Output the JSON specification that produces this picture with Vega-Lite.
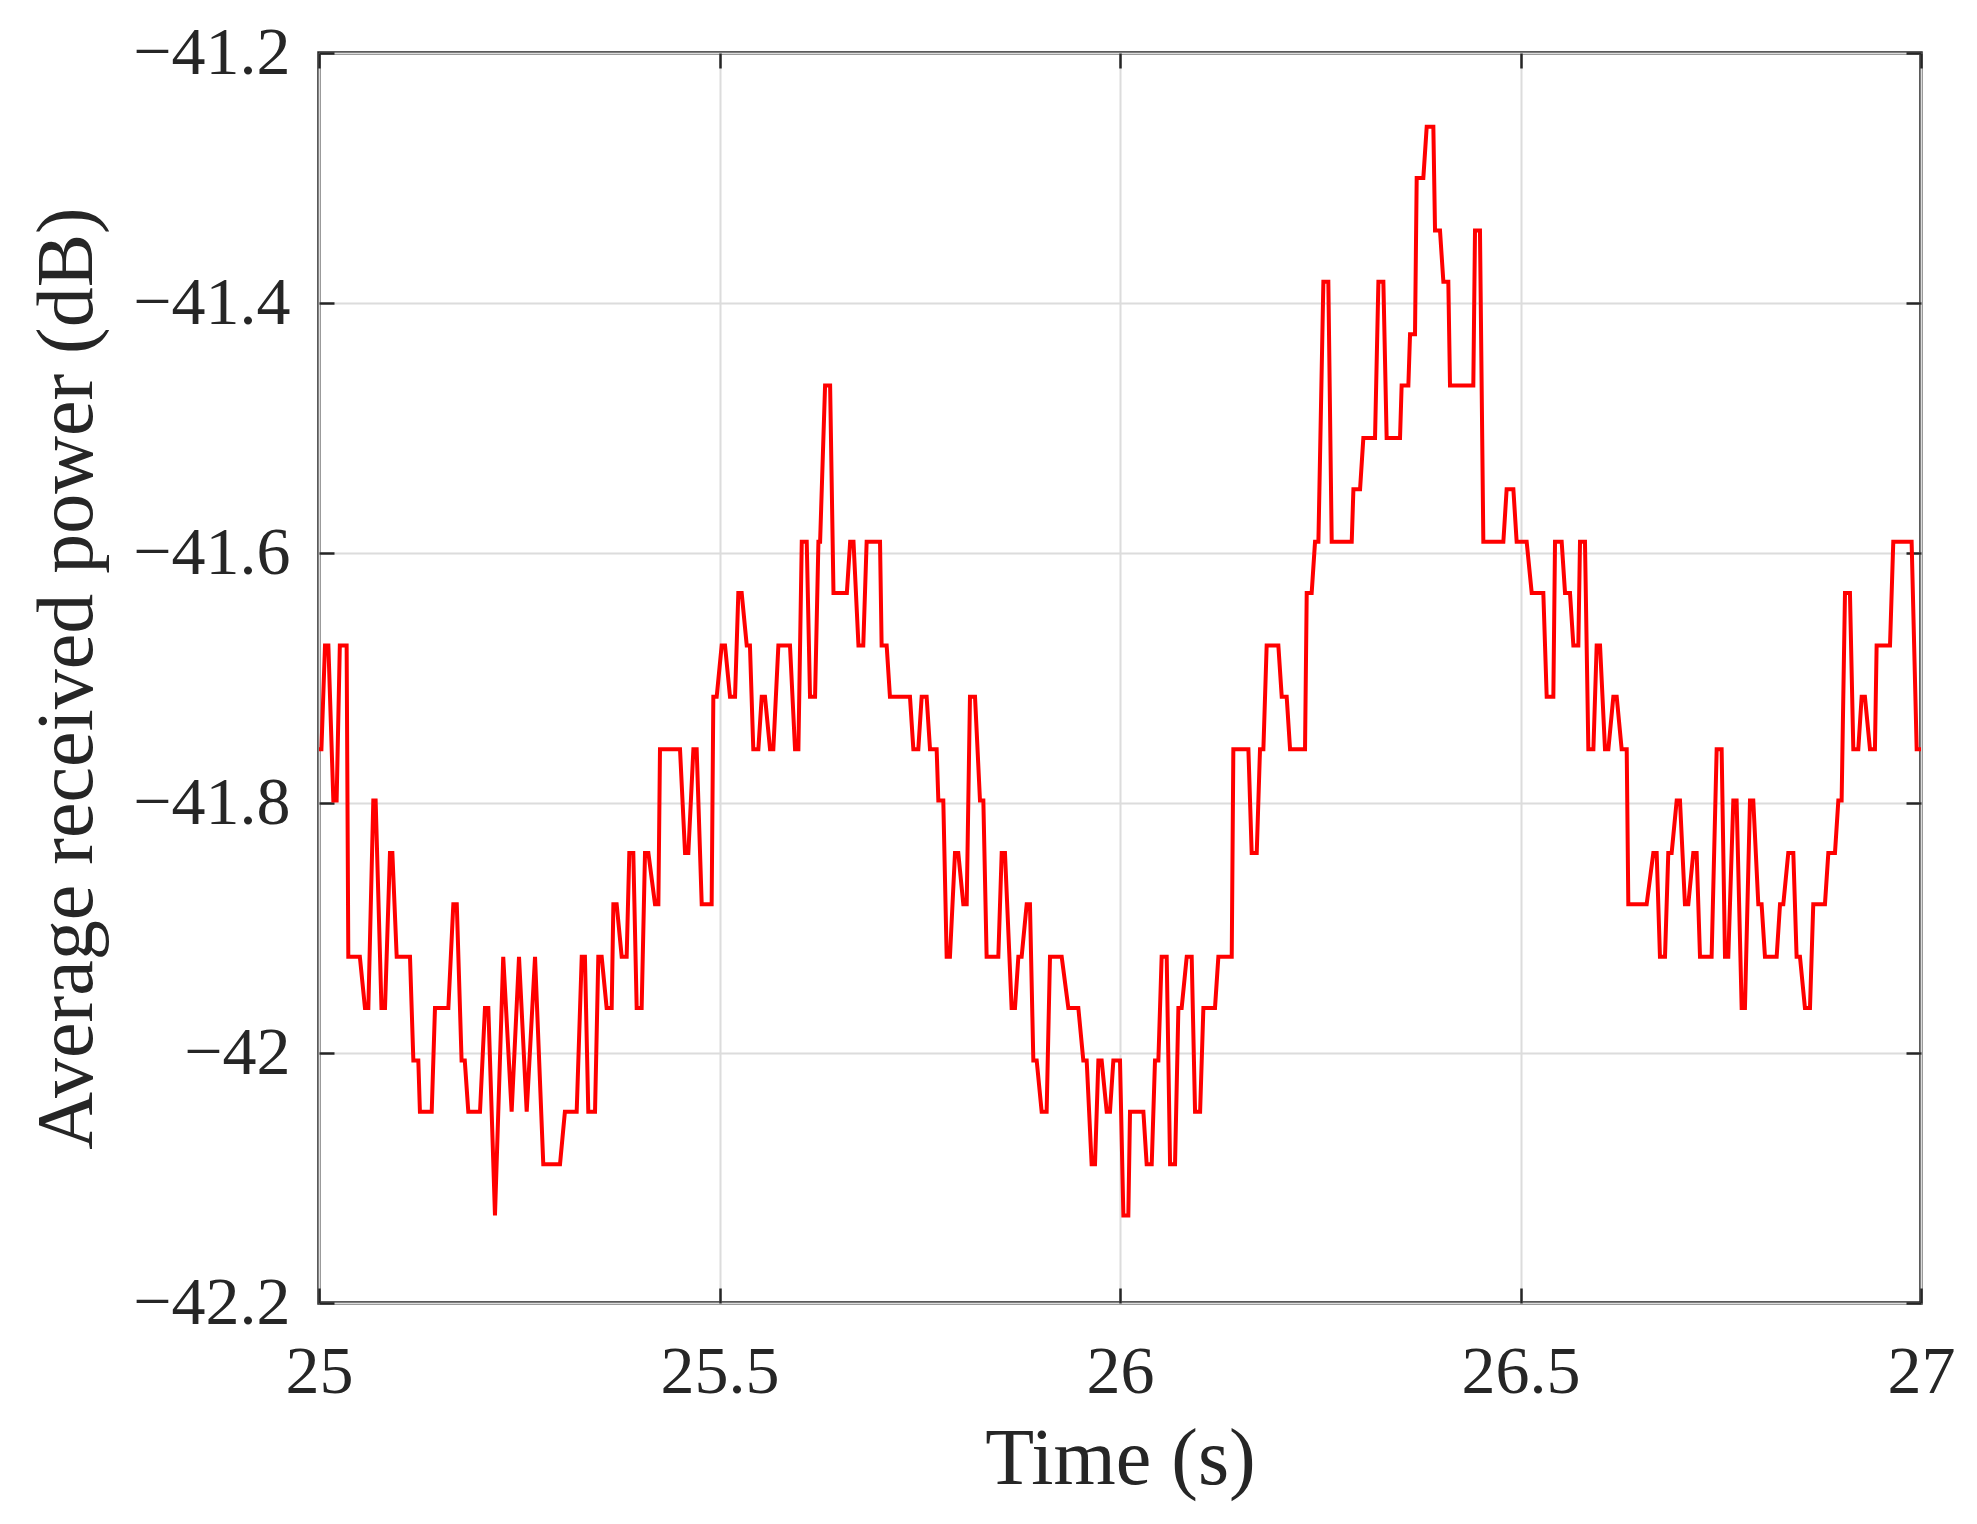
{
  "$schema": "https://vega.github.io/schema/vega-lite/v6.json",
  "width": 1602,
  "height": 1250,
  "autosize": {"type": "none"},
  "padding": {"left": 319, "top": 53, "right": 56, "bottom": 221},
  "background": "white",
  "config": {
    "view": {"stroke": "#262626", "strokeWidth": 3.5, "strokeOpacity": 1},
    "font": "Liberation Serif",
    "axis": {
      "labelFont": "Liberation Serif",
      "titleFont": "Liberation Serif",
      "labelColor": "#262626",
      "titleColor": "#262626",
      "labelFontSize": 68,
      "titleFontSize": 80,
      "titleFontWeight": "normal",
      "tickColor": "#262626",
      "tickWidth": 2.5,
      "tickSize": -15,
      "domain": false,
      "gridColor": "#dcdcdc",
      "gridWidth": 2,
      "gridOpacity": 1
    }
  },
  "data": {
    "values": [
      {"time": 25.0, "power": -41.757}, {"time": 25.003, "power": -41.757},
      {"time": 25.0075, "power": -41.674}, {"time": 25.0117, "power": -41.674},
      {"time": 25.0179, "power": -41.798}, {"time": 25.022, "power": -41.798},
      {"time": 25.026, "power": -41.674}, {"time": 25.0345, "power": -41.674},
      {"time": 25.0366, "power": -41.923}, {"time": 25.051, "power": -41.923},
      {"time": 25.0574, "power": -41.964}, {"time": 25.0616, "power": -41.964},
      {"time": 25.0678, "power": -41.798}, {"time": 25.0707, "power": -41.798},
      {"time": 25.078, "power": -41.964}, {"time": 25.0824, "power": -41.964},
      {"time": 25.0886, "power": -41.84}, {"time": 25.0916, "power": -41.84},
      {"time": 25.097, "power": -41.923}, {"time": 25.1136, "power": -41.923},
      {"time": 25.1178, "power": -42.006}, {"time": 25.124, "power": -42.006},
      {"time": 25.126, "power": -42.047}, {"time": 25.1407, "power": -42.047},
      {"time": 25.1448, "power": -41.964}, {"time": 25.1615, "power": -41.964},
      {"time": 25.1677, "power": -41.881}, {"time": 25.172, "power": -41.881},
      {"time": 25.178, "power": -42.006}, {"time": 25.182, "power": -42.006},
      {"time": 25.1864, "power": -42.047}, {"time": 25.201, "power": -42.047},
      {"time": 25.2072, "power": -41.964}, {"time": 25.2114, "power": -41.964},
      {"time": 25.2197, "power": -42.13},
      {"time": 25.23, "power": -41.923},
      {"time": 25.2405, "power": -42.047},
      {"time": 25.2497, "power": -41.923},
      {"time": 25.2593, "power": -42.047},
      {"time": 25.2697, "power": -41.923},
      {"time": 25.28, "power": -42.089}, {"time": 25.3009, "power": -42.089},
      {"time": 25.307, "power": -42.047}, {"time": 25.3217, "power": -42.047},
      {"time": 25.328, "power": -41.923}, {"time": 25.332, "power": -41.923},
      {"time": 25.3362, "power": -42.047}, {"time": 25.3446, "power": -42.047},
      {"time": 25.3487, "power": -41.923}, {"time": 25.3529, "power": -41.923},
      {"time": 25.3591, "power": -41.964}, {"time": 25.3654, "power": -41.964},
      {"time": 25.3675, "power": -41.881}, {"time": 25.3716, "power": -41.881},
      {"time": 25.3779, "power": -41.923}, {"time": 25.3841, "power": -41.923},
      {"time": 25.3874, "power": -41.84}, {"time": 25.3924, "power": -41.84},
      {"time": 25.3966, "power": -41.964}, {"time": 25.4028, "power": -41.964},
      {"time": 25.407, "power": -41.84}, {"time": 25.4112, "power": -41.84},
      {"time": 25.4195, "power": -41.881}, {"time": 25.4237, "power": -41.881},
      {"time": 25.4257, "power": -41.757}, {"time": 25.4507, "power": -41.757},
      {"time": 25.457, "power": -41.84}, {"time": 25.4611, "power": -41.84},
      {"time": 25.4674, "power": -41.757}, {"time": 25.4715, "power": -41.757},
      {"time": 25.4778, "power": -41.881}, {"time": 25.4902, "power": -41.881},
      {"time": 25.4923, "power": -41.715}, {"time": 25.4965, "power": -41.715},
      {"time": 25.5027, "power": -41.674}, {"time": 25.5069, "power": -41.674},
      {"time": 25.5131, "power": -41.715}, {"time": 25.5194, "power": -41.715},
      {"time": 25.5235, "power": -41.632}, {"time": 25.5277, "power": -41.632},
      {"time": 25.534, "power": -41.674}, {"time": 25.538, "power": -41.674},
      {"time": 25.5422, "power": -41.757}, {"time": 25.5485, "power": -41.757},
      {"time": 25.5527, "power": -41.715}, {"time": 25.5568, "power": -41.715},
      {"time": 25.5631, "power": -41.757}, {"time": 25.5672, "power": -41.757},
      {"time": 25.5735, "power": -41.674}, {"time": 25.588, "power": -41.674},
      {"time": 25.5943, "power": -41.757}, {"time": 25.5985, "power": -41.757},
      {"time": 25.6027, "power": -41.591}, {"time": 25.6089, "power": -41.591},
      {"time": 25.613, "power": -41.715}, {"time": 25.6193, "power": -41.715},
      {"time": 25.6235, "power": -41.591}, {"time": 25.6256, "power": -41.591},
      {"time": 25.6318, "power": -41.466}, {"time": 25.6381, "power": -41.466},
      {"time": 25.6423, "power": -41.632}, {"time": 25.659, "power": -41.632},
      {"time": 25.6631, "power": -41.591}, {"time": 25.6673, "power": -41.591},
      {"time": 25.6735, "power": -41.674}, {"time": 25.6795, "power": -41.674},
      {"time": 25.6837, "power": -41.591}, {"time": 25.7004, "power": -41.591},
      {"time": 25.7024, "power": -41.674}, {"time": 25.7087, "power": -41.674},
      {"time": 25.7128, "power": -41.715}, {"time": 25.7378, "power": -41.715},
      {"time": 25.742, "power": -41.757}, {"time": 25.7482, "power": -41.757},
      {"time": 25.7524, "power": -41.715}, {"time": 25.7586, "power": -41.715},
      {"time": 25.7628, "power": -41.757}, {"time": 25.7711, "power": -41.757},
      {"time": 25.7732, "power": -41.798}, {"time": 25.7794, "power": -41.798},
      {"time": 25.7836, "power": -41.923}, {"time": 25.7877, "power": -41.923},
      {"time": 25.794, "power": -41.84}, {"time": 25.7981, "power": -41.84},
      {"time": 25.8044, "power": -41.881}, {"time": 25.8086, "power": -41.881},
      {"time": 25.8127, "power": -41.715}, {"time": 25.819, "power": -41.715},
      {"time": 25.8252, "power": -41.798}, {"time": 25.8294, "power": -41.798},
      {"time": 25.8335, "power": -41.923}, {"time": 25.8481, "power": -41.923},
      {"time": 25.8523, "power": -41.84}, {"time": 25.8564, "power": -41.84},
      {"time": 25.8647, "power": -41.964}, {"time": 25.8689, "power": -41.964},
      {"time": 25.8731, "power": -41.923}, {"time": 25.8772, "power": -41.923},
      {"time": 25.8835, "power": -41.881}, {"time": 25.8876, "power": -41.881},
      {"time": 25.8918, "power": -42.006}, {"time": 25.896, "power": -42.006},
      {"time": 25.9022, "power": -42.047}, {"time": 25.9084, "power": -42.047},
      {"time": 25.9126, "power": -41.923}, {"time": 25.9272, "power": -41.923},
      {"time": 25.9355, "power": -41.964}, {"time": 25.948, "power": -41.964},
      {"time": 25.9542, "power": -42.006}, {"time": 25.9584, "power": -42.006},
      {"time": 25.9646, "power": -42.089}, {"time": 25.9688, "power": -42.089},
      {"time": 25.973, "power": -42.006}, {"time": 25.9771, "power": -42.006},
      {"time": 25.9834, "power": -42.047}, {"time": 25.9875, "power": -42.047},
      {"time": 25.9917, "power": -42.006}, {"time": 26.0, "power": -42.006},
      {"time": 26.0042, "power": -42.13}, {"time": 26.0104, "power": -42.13},
      {"time": 26.0125, "power": -42.047}, {"time": 26.0292, "power": -42.047},
      {"time": 26.0333, "power": -42.089}, {"time": 26.0396, "power": -42.089},
      {"time": 26.0437, "power": -42.006}, {"time": 26.0479, "power": -42.006},
      {"time": 26.052, "power": -41.923}, {"time": 26.0583, "power": -41.923},
      {"time": 26.0625, "power": -42.089}, {"time": 26.0687, "power": -42.089},
      {"time": 26.0729, "power": -41.964}, {"time": 26.077, "power": -41.964},
      {"time": 26.0833, "power": -41.923}, {"time": 26.0895, "power": -41.923},
      {"time": 26.0937, "power": -42.047}, {"time": 26.1, "power": -42.047},
      {"time": 26.1041, "power": -41.964}, {"time": 26.1186, "power": -41.964},
      {"time": 26.1228, "power": -41.923}, {"time": 26.1395, "power": -41.923},
      {"time": 26.1415, "power": -41.757}, {"time": 26.1603, "power": -41.757},
      {"time": 26.1644, "power": -41.84}, {"time": 26.1707, "power": -41.84},
      {"time": 26.1748, "power": -41.757}, {"time": 26.179, "power": -41.757},
      {"time": 26.1831, "power": -41.674}, {"time": 26.1977, "power": -41.674},
      {"time": 26.2019, "power": -41.715}, {"time": 26.2081, "power": -41.715},
      {"time": 26.2123, "power": -41.757}, {"time": 26.231, "power": -41.757},
      {"time": 26.2331, "power": -41.632}, {"time": 26.2393, "power": -41.632},
      {"time": 26.2435, "power": -41.591}, {"time": 26.2477, "power": -41.591},
      {"time": 26.2539, "power": -41.383}, {"time": 26.2601, "power": -41.383},
      {"time": 26.2643, "power": -41.591}, {"time": 26.2893, "power": -41.591},
      {"time": 26.2914, "power": -41.549}, {"time": 26.2997, "power": -41.549},
      {"time": 26.3038, "power": -41.508}, {"time": 26.3184, "power": -41.508},
      {"time": 26.3226, "power": -41.383}, {"time": 26.3288, "power": -41.383},
      {"time": 26.3329, "power": -41.508}, {"time": 26.3496, "power": -41.508},
      {"time": 26.3516, "power": -41.466}, {"time": 26.36, "power": -41.466},
      {"time": 26.3621, "power": -41.425}, {"time": 26.3683, "power": -41.425},
      {"time": 26.3704, "power": -41.3}, {"time": 26.3787, "power": -41.3},
      {"time": 26.3829, "power": -41.259}, {"time": 26.3912, "power": -41.259},
      {"time": 26.3933, "power": -41.342}, {"time": 26.3995, "power": -41.342},
      {"time": 26.4037, "power": -41.383}, {"time": 26.4099, "power": -41.383},
      {"time": 26.412, "power": -41.466}, {"time": 26.4411, "power": -41.466},
      {"time": 26.4432, "power": -41.342}, {"time": 26.4494, "power": -41.342},
      {"time": 26.4536, "power": -41.591}, {"time": 26.4786, "power": -41.591},
      {"time": 26.4827, "power": -41.549}, {"time": 26.4911, "power": -41.549},
      {"time": 26.4952, "power": -41.591}, {"time": 26.5077, "power": -41.591},
      {"time": 26.514, "power": -41.632}, {"time": 26.5285, "power": -41.632},
      {"time": 26.5327, "power": -41.715}, {"time": 26.541, "power": -41.715},
      {"time": 26.5431, "power": -41.591}, {"time": 26.5514, "power": -41.591},
      {"time": 26.5556, "power": -41.632}, {"time": 26.5618, "power": -41.632},
      {"time": 26.566, "power": -41.674}, {"time": 26.5722, "power": -41.674},
      {"time": 26.5743, "power": -41.591}, {"time": 26.5805, "power": -41.591},
      {"time": 26.5847, "power": -41.757}, {"time": 26.591, "power": -41.757},
      {"time": 26.5951, "power": -41.674}, {"time": 26.5993, "power": -41.674},
      {"time": 26.6055, "power": -41.757}, {"time": 26.6097, "power": -41.757},
      {"time": 26.6159, "power": -41.715}, {"time": 26.6201, "power": -41.715},
      {"time": 26.6263, "power": -41.757}, {"time": 26.6326, "power": -41.757},
      {"time": 26.6346, "power": -41.881}, {"time": 26.6575, "power": -41.881},
      {"time": 26.6658, "power": -41.84}, {"time": 26.67, "power": -41.84},
      {"time": 26.6741, "power": -41.923}, {"time": 26.6804, "power": -41.923},
      {"time": 26.6845, "power": -41.84}, {"time": 26.6887, "power": -41.84},
      {"time": 26.695, "power": -41.798}, {"time": 26.6991, "power": -41.798},
      {"time": 26.7053, "power": -41.881}, {"time": 26.7095, "power": -41.881},
      {"time": 26.7157, "power": -41.84}, {"time": 26.7199, "power": -41.84},
      {"time": 26.7241, "power": -41.923}, {"time": 26.7386, "power": -41.923},
      {"time": 26.7449, "power": -41.757}, {"time": 26.7511, "power": -41.757},
      {"time": 26.7553, "power": -41.923}, {"time": 26.7594, "power": -41.923},
      {"time": 26.7657, "power": -41.798}, {"time": 26.7698, "power": -41.798},
      {"time": 26.7761, "power": -41.964}, {"time": 26.7802, "power": -41.964},
      {"time": 26.7865, "power": -41.798}, {"time": 26.7906, "power": -41.798},
      {"time": 26.7969, "power": -41.881}, {"time": 26.801, "power": -41.881},
      {"time": 26.8052, "power": -41.923}, {"time": 26.8198, "power": -41.923},
      {"time": 26.824, "power": -41.881}, {"time": 26.8281, "power": -41.881},
      {"time": 26.8343, "power": -41.84}, {"time": 26.8406, "power": -41.84},
      {"time": 26.8447, "power": -41.923}, {"time": 26.8489, "power": -41.923},
      {"time": 26.8551, "power": -41.964}, {"time": 26.8614, "power": -41.964},
      {"time": 26.8655, "power": -41.881}, {"time": 26.8801, "power": -41.881},
      {"time": 26.8843, "power": -41.84}, {"time": 26.8926, "power": -41.84},
      {"time": 26.8968, "power": -41.798}, {"time": 26.9009, "power": -41.798},
      {"time": 26.9051, "power": -41.632}, {"time": 26.9113, "power": -41.632},
      {"time": 26.9155, "power": -41.757}, {"time": 26.9217, "power": -41.757},
      {"time": 26.9259, "power": -41.715}, {"time": 26.93, "power": -41.715},
      {"time": 26.9363, "power": -41.757}, {"time": 26.9425, "power": -41.757},
      {"time": 26.9446, "power": -41.674}, {"time": 26.9613, "power": -41.674},
      {"time": 26.9654, "power": -41.591}, {"time": 26.9883, "power": -41.591},
      {"time": 26.9946, "power": -41.757}, {"time": 27.0, "power": -41.757}
    ]
  },
  "layer": [
    {
      "mark": {"type": "line", "color": "#ff0000", "strokeWidth": 4, "interpolate": "linear", "clip": true},
      "encoding": {
        "x": {
          "field": "time",
          "type": "quantitative",
          "scale": {"domain": [25, 27], "nice": false, "zero": false},
          "axis": {
            "orient": "bottom",
            "values": [25, 25.5, 26, 26.5, 27],
            "format": "~g",
            "labelPadding": 50,
            "labelFlush": false,
            "grid": true,
            "title": "Time (s)",
            "titleBaseline": "alphabetic",
            "titleY": 180
          }
        },
        "y": {
          "field": "power",
          "type": "quantitative",
          "scale": {"domain": [-42.2, -41.2], "nice": false, "zero": false},
          "axis": {
            "orient": "left",
            "values": [-42.2, -42, -41.8, -41.6, -41.4, -41.2],
            "format": ".1~f",
            "labelPadding": 44,
            "labelFlush": false,
            "grid": true,
            "title": "Average received power (dB)",
            "titleBaseline": "alphabetic",
            "titleX": -228
          }
        }
      }
    },
    {
      "mark": {"type": "line", "opacity": 0},
      "encoding": {
        "x": {
          "field": "time",
          "type": "quantitative",
          "axis": {
            "orient": "top",
            "values": [25, 25.5, 26, 26.5, 27],
            "labels": false,
            "grid": false,
            "title": null
          }
        },
        "y": {
          "field": "power",
          "type": "quantitative",
          "axis": {
            "orient": "right",
            "values": [-42.2, -42, -41.8, -41.6, -41.4, -41.2],
            "labels": false,
            "grid": false,
            "title": null
          }
        }
      }
    }
  ],
  "resolve": {"axis": {"x": "independent", "y": "independent"}}
}
